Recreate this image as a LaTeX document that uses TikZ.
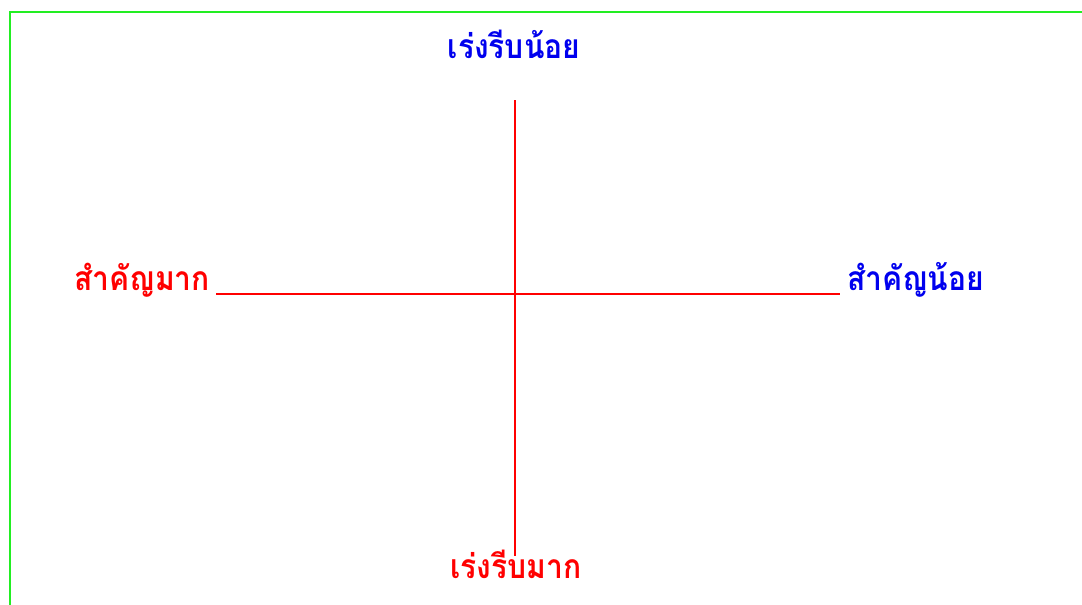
\documentclass[tikz,border=0pt]{standalone}
\usepackage{fontspec}
\newfontfamily\thaifont[Script=Thai]{Loma}
\usepackage{tikz}
\usetikzlibrary{positioning}
\definecolor{framegreen}{HTML}{22EE22}
\definecolor{axisred}{HTML}{FF0000}
\definecolor{lblblue}{HTML}{0000EE}
\newcommand{\tall}[1]{\scalebox{1}[1.12]{#1}}

\begin{document}
\begin{tikzpicture}[
    x=1pt, y=-1pt,
    axis/.style={draw=axisred, line width=1.6pt},
    frame/.style={draw=framegreen, line width=1.8pt},
    lbl/.style={font=\thaifont\bfseries\fontsize{30}{34}\selectfont, inner sep=0pt},
]
\useasboundingbox (0,0) rectangle (1082,605);

% frame
\coordinate (ftl) at (10,12);
\coordinate (ftr) at (1082,12);
\coordinate (fbl) at (10,605);
\draw[frame] (fbl) -- (ftl) -- (ftr);

% axes
\coordinate (vtop) at (515,100);
\coordinate (vbot) at (515,556);
\coordinate (hleft) at (216,294);
\coordinate (hright) at (840,294);
\draw[axis] (vtop) -- (vbot);
\draw[axis] (hleft) -- (hright);

% labels
\node[lbl, text=lblblue, anchor=base] (lessurgent) at (514,58) {\tall{เร่งรีบน้อย}};
\node[lbl, text=axisred, anchor=base] (mosturgent) at (516,578) {\tall{เร่งรีบมาก}};
\node[lbl, text=axisred, anchor=base east] (mostimportant) at (210,290) {\tall{สำคัญมาก}};
\node[lbl, text=lblblue, anchor=base west] (lessimportant) at (847,290) {\tall{สำคัญน้อย}};

\end{tikzpicture}
\end{document}
